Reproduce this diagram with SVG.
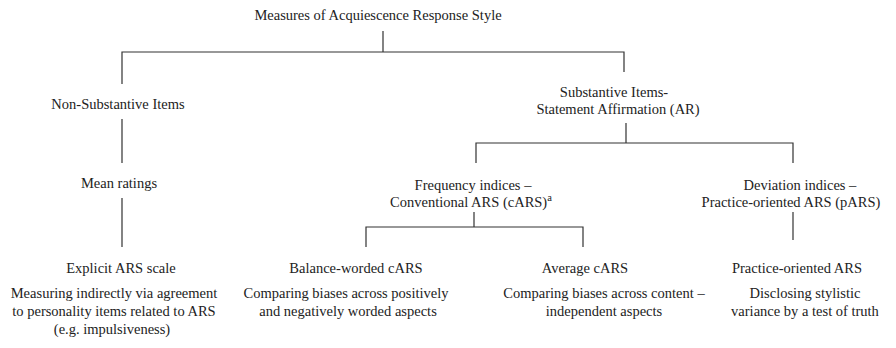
<svg xmlns="http://www.w3.org/2000/svg" width="896" height="348" viewBox="0 0 896 348">
<style>
text{font-family:"Liberation Serif","Times New Roman","DejaVu Serif",serif;font-size:14.5px;fill:#222;text-anchor:middle}
.sup{font-size:10.5px}
.c{stroke:#333;stroke-width:1.2;fill:none}
</style>
<rect width="896" height="348" fill="#fff"/>
<g id="connectors" class="c">
<path d="M383 31V52M122 84V52H624V72"/>
<path d="M122 119V163M122 198V247"/>
<path d="M626 123V143M476 163V143H793V163"/>
<path d="M474 212V227M366 247V227H583V247"/>
<path d="M793 212V240"/>
</g>
<g id="root"><text x="378" y="20">Measures of Acquiescence Response Style</text></g>
<g id="nonsub"><text x="118" y="109">Non-Substantive Items</text></g>
<g id="sub"><text x="614" y="97">Substantive Items-</text><text x="618" y="114">Statement Affirmation (AR)</text></g>
<g id="mean"><text x="119" y="188">Mean ratings</text></g>
<g id="freq"><text x="473" y="190">Frequency indices –</text><text x="471" y="207">Conventional ARS (cARS)<tspan class="sup" dy="-6">a</tspan></text></g>
<g id="dev"><text x="800" y="190">Deviation indices –</text><text x="791" y="207">Practice-oriented ARS (pARS)</text></g>
<g id="explicit"><text x="121" y="273">Explicit ARS scale</text><text x="114" y="298">Measuring indirectly via agreement</text><text x="114" y="316">to personality items related to ARS</text><text x="112" y="334">(e.g. impulsiveness)</text></g>
<g id="balance"><text x="356" y="273">Balance-worded cARS</text><text x="346" y="298">Comparing biases across positively</text><text x="348" y="316">and negatively worded aspects</text></g>
<g id="average"><text x="585" y="273">Average cARS</text><text x="604" y="298">Comparing biases across content –</text><text x="604" y="316">independent aspects</text></g>
<g id="practice"><text x="797" y="273">Practice-oriented ARS</text><text x="805" y="298">Disclosing stylistic</text><text x="805" y="316">variance by a test of truth</text></g>
</svg>
